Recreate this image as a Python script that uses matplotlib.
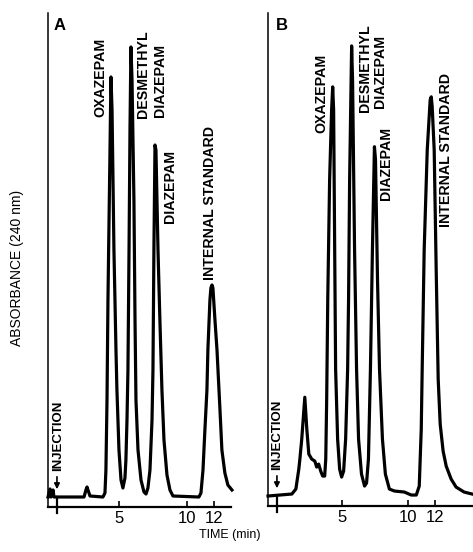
import matplotlib
matplotlib.use("Agg")
import matplotlib.pyplot as plt

# chromatogram A (time in min, absorbance in arbitrary units above baseline)
time_a = [-0.22, -0.07, 0.00, 0.15, 0.22, 2.43, 2.57, 2.65, 2.72, 2.87,
          3.82, 3.97, 4.04, 4.12, 4.19, 4.34, 4.41, 4.49, 4.63, 4.78,
          4.85, 5.00, 5.15, 5.29, 5.44, 5.51, 5.59, 5.66, 5.74, 5.81,
          5.88, 5.96, 6.10, 6.18, 6.25, 6.40, 6.62, 6.84, 6.99, 7.13,
          7.28, 7.43, 7.50, 7.57, 7.65, 7.72, 7.87, 8.01, 8.16, 8.31,
          8.53, 8.75, 8.97, 10.88, 11.03, 11.18, 11.32, 11.47, 11.54, 11.69,
          11.76, 11.84, 11.91, 12.06, 12.21, 12.43, 12.57, 12.79, 13.01, 13.31]
abs_a = [0.00, 0.08, 0.00, 0.07, 0.00, 0.00, 0.07, 0.10, 0.07, 0.01,
         0.00, 0.04, 0.27, 0.97, 1.97, 3.47, 4.20, 3.87, 2.47, 1.47,
         1.07, 0.47, 0.17, 0.09, 0.19, 0.37, 0.77, 1.27, 2.47, 3.67,
         4.50, 4.17, 2.97, 1.77, 0.97, 0.47, 0.17, 0.05, 0.03, 0.09,
         0.27, 0.77, 1.27, 2.47, 3.52, 3.47, 2.47, 1.77, 1.07, 0.57,
         0.22, 0.07, 0.01, 0.00, 0.04, 0.27, 0.67, 1.07, 1.47, 1.97,
         2.09, 2.12, 2.09, 1.77, 1.47, 0.87, 0.47, 0.24, 0.12, 0.07]

# chromatogram B
time_b = [-0.52, 1.27, 1.57, 1.79, 1.87, 2.01, 2.24, 2.39, 2.54, 2.76,
          2.99, 3.13, 3.28, 3.43, 3.58, 3.73, 3.81, 3.88, 3.96, 4.10,
          4.25, 4.33, 4.40, 4.48, 4.55, 4.70, 4.85, 5.00, 5.15, 5.30,
          5.45, 5.52, 5.60, 5.75, 5.82, 5.97, 6.12, 6.27, 6.49, 6.72,
          6.87, 7.01, 7.16, 7.31, 7.46, 7.54, 7.69, 7.84, 8.06, 8.28,
          8.58, 8.96, 9.70, 10.22, 10.60, 10.82, 10.97, 11.04, 11.19, 11.42,
          11.64, 11.72, 11.79, 11.94, 12.09, 12.24, 12.39, 12.61, 12.84, 13.21,
          13.58, 14.18, 14.78]
abs_b = [0.00, 0.02, 0.07, 0.27, 0.37, 0.57, 0.99, 0.67, 0.42, 0.37,
         0.35, 0.29, 0.32, 0.25, 0.20, 0.20, 0.37, 0.97, 1.97, 3.17,
         3.87, 4.10, 3.87, 2.47, 1.27, 0.57, 0.27, 0.19, 0.25, 0.57,
         1.27, 1.97, 3.17, 4.51, 4.17, 2.47, 1.27, 0.57, 0.22, 0.10,
         0.13, 0.37, 1.27, 2.47, 3.50, 3.37, 2.17, 1.27, 0.57, 0.22,
         0.07, 0.05, 0.04, 0.01, 0.01, 0.10, 0.67, 1.27, 2.47, 3.47,
         3.97, 4.00, 3.90, 3.47, 2.27, 1.17, 0.72, 0.45, 0.30, 0.17,
         0.09, 0.04, 0.02]

tick_pos = [5, 10, 12]
tick_labels = ["5", "10", "12"]
inj_a = 0.44
inj_b = 0.15

plt.rcParams["font.family"] = ["Liberation Sans", "DejaVu Sans"]

fig = plt.figure(figsize=(4.73, 5.52), dpi=100)
ax_a = fig.add_axes([48 / 473, 45 / 552, 183 / 473, 494 / 552])
ax_b = fig.add_axes([268 / 473, 46 / 552, 205 / 473, 493 / 552])


def style(ax, xlim):
    ax.set_xlim(*xlim)
    ax.set_ylim(-0.10, 4.84)
    for s in ["top", "right"]:
        ax.spines[s].set_visible(False)
    ax.spines["left"].set_linewidth(1.1)
    ax.spines["bottom"].set_linewidth(1.6)
    ax.set_yticks([])
    ax.set_xticks(tick_pos)
    ax.set_xticklabels(tick_labels, fontsize=12)
    ax.tick_params(axis="x", direction="in", length=4, width=1.2, pad=3)
    ax.patch.set_alpha(0)


style(ax_a, (-0.22, 13.24))
style(ax_b, (-0.52, 14.85))

ax_a.plot(time_a, abs_a, color="black", lw=2.3, solid_joinstyle="round", clip_on=False)
ax_b.plot(time_b, abs_b, color="black", lw=2.3, solid_joinstyle="round", clip_on=False)

lab = dict(rotation=90, ha="center", va="bottom", fontsize=10.2, fontweight="bold")

# panel A labels
ax_a.text(0.66, 4.64, "A", fontsize=12, fontweight="bold", ha="center", va="bottom")
ax_a.text(3.60, 3.80, "OXAZEPAM", **lab)
ax_a.text(6.76, 3.79, "DESMETHYL", **lab)
ax_a.text(8.01, 3.80, "DIAZEPAM", **lab)
ax_a.text(8.75, 2.74, "DIAZEPAM", **lab)
ax_a.text(11.69, 2.17, "INTERNAL STANDARD", **lab)

# panel B labels
ax_b.text(0.52, 4.64, "B", fontsize=12, fontweight="bold", ha="center", va="bottom")
ax_b.text(3.51, 3.64, "OXAZEPAM", **lab)
ax_b.text(6.79, 3.85, "DESMETHYL", **lab)
ax_b.text(7.84, 3.89, "DIAZEPAM", **lab)
ax_b.text(8.36, 2.97, "DIAZEPAM", **lab)
ax_b.text(12.84, 2.70, "INTERNAL STANDARD", **lab)

for ax, inj, tx in [(ax_a, inj_a, 0.51), (ax_b, inj_b, 0.15)]:
    ax.text(tx, 0.26, "INJECTION", rotation=90, ha="center", va="bottom",
            fontsize=9.5, fontweight="bold")
    ax.annotate("", xy=(inj, 0.05), xytext=(inj, 0.23),
                arrowprops=dict(arrowstyle="-|>", color="black", lw=1.2,
                                mutation_scale=8))
    ax.plot([inj, inj], [0.0, -0.16], color="black", lw=1.6, clip_on=False)

fig.text(17 / 473, 1 - 268 / 552, "ABSORBANCE (240 nm)", rotation=90,
         ha="center", va="center", fontsize=10)
fig.text(230 / 473, 1 - 535 / 552, "TIME (min)", ha="center", va="center", fontsize=9)

fig.savefig("out.png", dpi=100, facecolor="white")
